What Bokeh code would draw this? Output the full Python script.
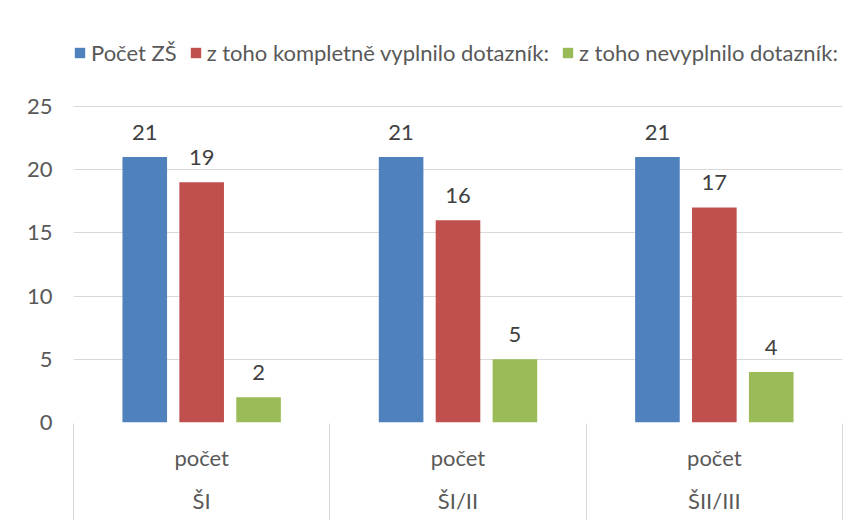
from bokeh.plotting import figure
from bokeh.models import (ColumnDataSource, Range1d, FixedTicker, LinearAxis,
                          Legend, LegendItem, LabelSet)
from bokeh.core.properties import value
from bokeh.transform import dodge
from bokeh.embed import file_html
from bokeh.resources import INLINE

# ---- data ----
groups = ["ŠI", "ŠI/II", "ŠII/III"]
sub_label = "počet"
series_names = ["Počet ZŠ", "z toho kompletně vyplnilo dotazník:", "z toho nevyplnilo dotazník:"]
pocet_zs = [21, 21, 21]
kompletne = [19, 16, 17]
nevyplnilo = [2, 5, 4]
y_ticks = [0, 5, 10, 15, 20, 25]
colors = ["#4F81BD", "#C0504D", "#9BBB59"]

FONT = "Lato"
FS = "22px"
GRAY = "#595959"
GRID = "#D9D9D9"

centers = [i + 0.5 for i in range(len(groups))]
bounds = list(range(len(groups) + 1))

src = ColumnDataSource(data=dict(
    x=centers,
    s0=pocet_zs, s1=kompletne, s2=nevyplnilo,
    t0=[str(v) for v in pocet_zs],
    t1=[str(v) for v in kompletne],
    t2=[str(v) for v in nevyplnilo],
))

p = figure(width=856, height=520, output_backend="svg", toolbar_location=None,
           x_range=Range1d(0, len(groups)), y_range=Range1d(0, 31.31),
           x_axis_location=None, min_border_left=73, min_border_right=14,
           min_border_top=26, min_border_bottom=97)
p.outline_line_color = None
p.background_fill_color = "white"
p.border_fill_color = "white"
p.xgrid.visible = False

yt = FixedTicker(ticks=y_ticks)
p.yaxis.ticker = yt
p.ygrid.ticker = yt
p.ygrid.grid_line_color = GRID
p.ygrid.grid_line_width = 1
p.yaxis.axis_line_color = None
p.yaxis.major_tick_line_color = None
p.yaxis.minor_tick_line_color = None
p.yaxis.major_label_text_font = FONT
p.yaxis.major_label_text_font_size = FS
p.yaxis.major_label_text_color = GRAY
p.yaxis.major_label_standoff = 15

offsets = [-0.222, 0.0, 0.222]
bar_w = 0.174
items = []
for k in range(3):
    r = p.vbar(x=dodge("x", offsets[k], range=p.x_range), top=f"s{k}", width=bar_w,
               source=src, fill_color=colors[k], line_color=None)
    items.append(LegendItem(label=series_names[k], renderers=[r]))
    lab = LabelSet(x=dodge("x", offsets[k], range=p.x_range), y=f"s{k}", text=f"t{k}",
                   source=src, text_align="center", text_baseline="alphabetic",
                   y_offset=17, text_font=value(FONT), text_font_size=value(FS),
                   text_color="#404040")
    p.add_layout(lab)

legend = Legend(items=items, orientation="horizontal", location=(0, 356),
                glyph_width=13, glyph_height=13, label_standoff=5, spacing=12,
                padding=0, margin=0, border_line_color=None, background_fill_alpha=0,
                label_text_font=FONT, label_text_font_size=FS, label_text_color=GRAY)
p.add_layout(legend, "center")

# category axis: first level (počet), second level (groups), separators
ax_a = LinearAxis(ticker=FixedTicker(ticks=centers),
                  major_label_overrides={c: sub_label for c in centers})
ax_b = LinearAxis(ticker=FixedTicker(ticks=centers),
                  major_label_overrides={c: g for c, g in zip(centers, groups)})
for ax, so in ((ax_a, 21), (ax_b, 13)):
    ax.axis_line_color = None
    ax.major_tick_line_color = None
    ax.minor_tick_line_color = None
    ax.major_tick_out = 0
    ax.major_tick_in = 0
    ax.major_label_standoff = so
    ax.major_label_text_font = FONT
    ax.major_label_text_font_size = FS
    ax.major_label_text_color = GRAY
    p.add_layout(ax, "below")

ax_c = LinearAxis(ticker=FixedTicker(ticks=[], minor_ticks=bounds))
ax_c.axis_line_color = None
ax_c.major_tick_line_color = None
ax_c.minor_tick_line_color = GRID
ax_c.minor_tick_line_width = 1
ax_c.minor_tick_in = 93
ax_c.minor_tick_out = 4
ax_c.major_tick_out = 4
ax_c.major_tick_in = 0
ax_c.major_label_standoff = 0
p.add_layout(ax_c, "below")

open("out.html", "w").write(file_html(p, INLINE))
